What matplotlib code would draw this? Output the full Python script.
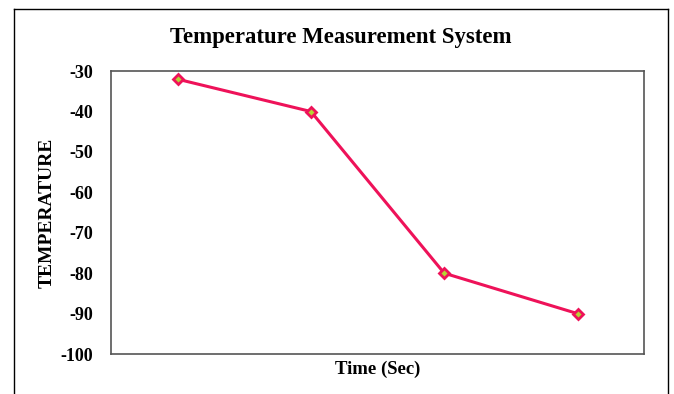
import matplotlib.pyplot as plt
from matplotlib.lines import Line2D

plt.rcParams['font.family'] = ['Liberation Serif', 'DejaVu Serif']
plt.rcParams['font.weight'] = 'bold'
plt.rcParams['axes.unicode_minus'] = False

seconds = ['1', '2', '3', '4']
temperature = [-32, -40, -80, -90]

fig = plt.figure(figsize=(6.74, 3.94), dpi=100)
ax = fig.add_axes([0.1647, 0.1015, 0.791, 0.718])

ax.plot(range(len(seconds)), temperature, color='#EE1259', linewidth=2.2,
        marker='D', markersize=5.5, markerfacecolor='#B5D334',
        markeredgecolor='#EE1259', markeredgewidth=2.0)

ax.set_xlim(-0.5, len(seconds) - 0.5)
ax.set_ylim(-100, -30)
ax.set_yticks(range(-100, -29, 10))
ax.set_xticks([])
ax.tick_params(axis='y', length=0, pad=13, labelsize=13)
for lbl in ax.get_yticklabels():
    lbl.set_fontweight('bold')
for sp in ax.spines.values():
    sp.set_color('#555555')
    sp.set_linewidth(1.2)

ax.set_xlabel('Time (Sec)', fontsize=13.5, fontweight='bold', labelpad=5)
ax.set_ylabel('TEMPERATURE', fontsize=14, fontweight='bold', labelpad=3.5)
fig.text(0.506, 0.905, 'Temperature Measurement System', ha='center',
         va='center', fontsize=16.4, fontweight='bold')

# outer chart frame (open at the bottom)
fx0, fx1, fy1 = 13.5 / 674, 667.5 / 674, 1 - 8.5 / 394
for xs, ys in [([fx0, fx0], [0, fy1]), ([fx0, fx1], [fy1, fy1]), ([fx1, fx1], [fy1, 0])]:
    fig.add_artist(Line2D(xs, ys, color='black', linewidth=1.0))

fig.savefig('out.png', dpi=100)
